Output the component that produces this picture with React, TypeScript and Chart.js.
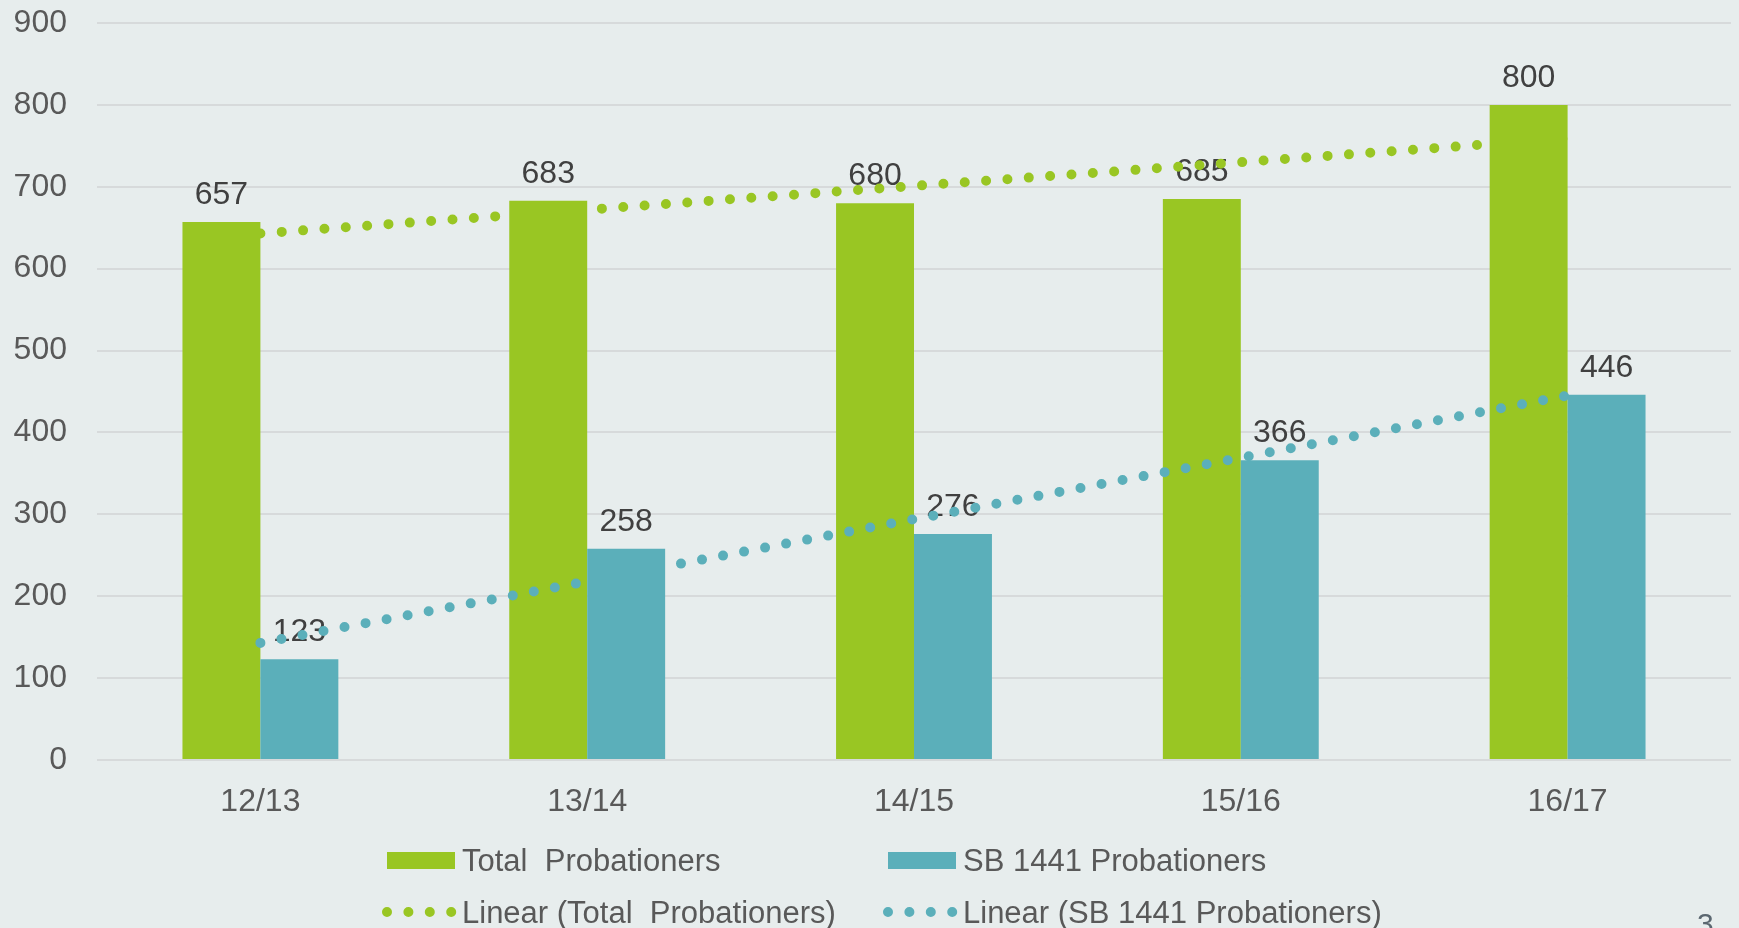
import React, { useEffect, useRef } from 'react';
import { Chart, registerables } from 'chart.js';

Chart.register(...registerables);

// ---- data ----
const categories = ['12/13', '13/14', '14/15', '15/16', '16/17'];
const totalProbationers = [657, 683, 680, 685, 800];
const sb1441Probationers = [123, 258, 276, 366, 446];
// linear trendlines at each category centre
const totalTrend = [643, 672, 701, 730, 759];
const sb1441Trend = [143, 218, 294, 369, 445];
const yTickValues = [0, 100, 200, 300, 400, 500, 600, 700, 800, 900];
const legendLabels = [
  'Total  Probationers',
  'SB 1441 Probationers',
  'Linear (Total  Probationers)',
  'Linear (SB 1441 Probationers)',
];
const pageNumber = '3';

// ---- styles ----
const GREEN = '#99C623';
const TEAL = '#5BAFBA';
const BG = '#E7EDED';
const GRID = '#D7DADB';
const AXIS_TEXT = '#595959';
const LABEL_TEXT = '#404040';
const FONT = "'Liberation Sans', Arial, sans-serif";
const DOT_WIDTH = 10;
const DOT_GAP = 21.4;

const W = 1739;
const H = 928;

const layerPlugin = {
  id: 'layerPlugin',
  beforeDatasetsDraw(chart: any) {
    const ctx = chart.ctx;
    // data labels (drawn beneath the trendlines)
    ctx.save();
    ctx.font = `32px ${FONT}`;
    ctx.fillStyle = LABEL_TEXT;
    ctx.textAlign = 'center';
    ctx.textBaseline = 'alphabetic';
    [0, 1].forEach((di) => {
      const meta = chart.getDatasetMeta(di);
      const values = chart.data.datasets[di].data;
      meta.data.forEach((bar: any, i: number) => {
        ctx.fillText(String(values[i]), bar.x, bar.y - 18);
      });
    });
    ctx.restore();
    // draw order: green trend, green bars, teal trend, teal bars
    [2, 0, 3, 1].forEach((di) => {
      const meta = chart.getDatasetMeta(di);
      ctx.save();
      meta.controller.draw();
      ctx.restore();
    });
    return false;
  },
  afterDraw(chart: any) {
    const ctx = chart.ctx;
    ctx.save();
    const cols = [387, 888];
    const rows = [861, 912];
    const colors = [GREEN, TEAL];
    ctx.font = `31px ${FONT}`;
    ctx.textAlign = 'left';
    ctx.textBaseline = 'alphabetic';
    legendLabels.forEach((label, idx) => {
      const row = Math.floor(idx / 2);
      const col = idx % 2;
      const x0 = cols[col];
      const yc = rows[row];
      if (row === 0) {
        ctx.fillStyle = colors[col];
        ctx.fillRect(x0, yc - 9, 68, 17);
      } else {
        ctx.strokeStyle = colors[col];
        ctx.lineWidth = DOT_WIDTH;
        ctx.lineCap = 'round';
        ctx.setLineDash([0, DOT_GAP]);
        ctx.beginPath();
        ctx.moveTo(x0, yc);
        ctx.lineTo(x0 + 66, yc);
        ctx.stroke();
        ctx.setLineDash([]);
      }
      ctx.fillStyle = AXIS_TEXT;
      ctx.fillText(label, x0 + 75, row === 0 ? yc + 10 : yc + 11);
    });
    // slide page number
    ctx.fillStyle = '#5B6770';
    ctx.font = `30px ${FONT}`;
    ctx.fillText(pageNumber, 1697, 934);
    ctx.restore();
  },
};

export default function App() {
  const canvasRef = useRef<HTMLCanvasElement | null>(null);

  useEffect(() => {
    if (!canvasRef.current) return;
    const chart = new Chart(canvasRef.current, {
      type: 'bar',
      data: {
        labels: categories,
        datasets: [
          {
            type: 'bar',
            label: legendLabels[0],
            data: totalProbationers,
            backgroundColor: GREEN,
            borderWidth: 0,
            categoryPercentage: 0.477,
            barPercentage: 1,
          },
          {
            type: 'bar',
            label: legendLabels[1],
            data: sb1441Probationers,
            backgroundColor: TEAL,
            borderWidth: 0,
            categoryPercentage: 0.477,
            barPercentage: 1,
          },
          {
            type: 'line',
            label: legendLabels[2],
            data: totalTrend,
            borderColor: GREEN,
            backgroundColor: GREEN,
            borderWidth: DOT_WIDTH,
            borderDash: [0, DOT_GAP],
            borderCapStyle: 'round',
            pointRadius: 0,
            fill: false,
            tension: 0,
          },
          {
            type: 'line',
            label: legendLabels[3],
            data: sb1441Trend,
            borderColor: TEAL,
            backgroundColor: TEAL,
            borderWidth: DOT_WIDTH,
            borderDash: [0, DOT_GAP],
            borderCapStyle: 'round',
            pointRadius: 0,
            fill: false,
            tension: 0,
          },
        ] as any,
      },
      options: {
        responsive: false,
        animation: false,
        layout: { padding: { top: 23, right: 8, left: 0, bottom: 0 } },
        plugins: {
          legend: { display: false },
          tooltip: { enabled: false },
        },
        scales: {
          x: {
            offset: true,
            grid: { display: false },
            border: { display: false },
            ticks: {
              color: AXIS_TEXT,
              font: { family: FONT, size: 32 },
              padding: 15,
              maxRotation: 0,
            },
            afterFit: (s: any) => {
              s.height = 168;
              s.paddingLeft = 0;
              s.paddingRight = 0;
            },
          },
          y: {
            min: 0,
            max: 900,
            afterBuildTicks: (s: any) => {
              s.ticks = yTickValues.map((v) => ({ value: v }));
            },
            grid: { color: GRID, lineWidth: 2, drawTicks: false },
            border: { display: false },
            ticks: {
              color: AXIS_TEXT,
              font: { family: FONT, size: 32 },
              padding: 30,
            },
            afterFit: (s: any) => {
              s.width = 97;
              s.paddingTop = 0;
              s.paddingBottom = 0;
            },
          },
        },
      } as any,
      plugins: [layerPlugin],
    });
    return () => chart.destroy();
  }, []);

  return (
    <div
      style={{
        position: 'absolute',
        left: 0,
        top: 0,
        width: W,
        height: H,
        background: BG,
        overflow: 'hidden',
      }}
    >
      <canvas ref={canvasRef} width={W} height={H} style={{ width: W, height: H, display: 'block' }} />
    </div>
  );
}
